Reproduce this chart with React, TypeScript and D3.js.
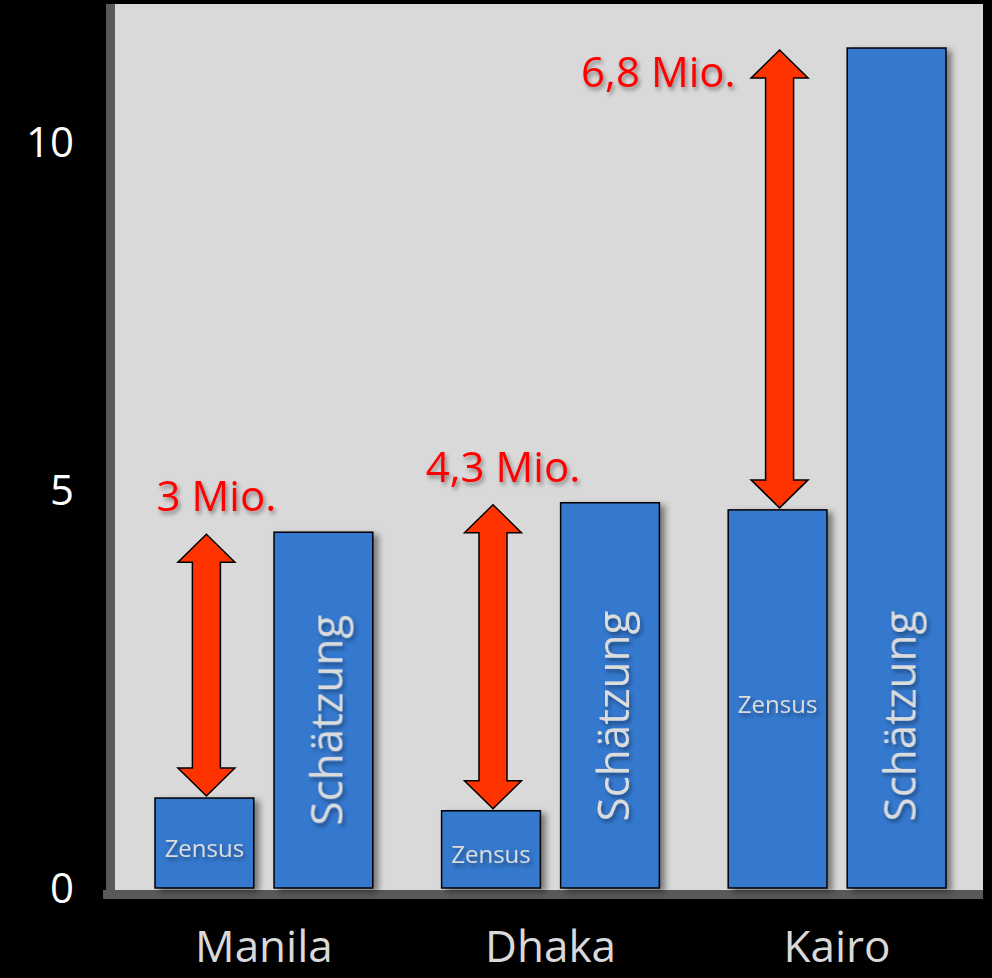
import React from 'react';
import * as d3 from 'd3';

const categories = ['Manila', 'Dhaka', 'Kairo'];
const seriesNames = ['Zensus', 'Schätzung'];
const zensusValues = [1.13, 0.97, 4.75];
const schaetzungValues = [4.47, 4.84, 11.35];
const diffLabels = ['3 Mio.', '4,3 Mio.', '6,8 Mio.'];
const diffLabelPlacement = ['above', 'above', 'left'];
const yTicks = [0, 5, 10];

const W = 992;
const H = 978;
const FONT = "'Open Sans', 'DejaVu Sans', sans-serif";

export default function App() {
  const y = d3.scaleLinear().domain([0, 5, 10]).range([888, 490, 142]);
  const x = d3.scaleBand<string>().domain(categories).range([155, 946]).paddingInner(0.24).paddingOuter(0);
  const xs = d3.scaleBand<string>().domain(seriesNames).range([0, x.bandwidth()]).paddingInner(0.17);
  const y0 = y(0);

  const arrowPath = (cx: number, top: number, bottom: number) => {
    const hw = 28.5, hh = 28, sw = 14;
    const p = d3.path();
    p.moveTo(cx, top);
    p.lineTo(cx + hw, top + hh);
    p.lineTo(cx + sw, top + hh);
    p.lineTo(cx + sw, bottom - hh);
    p.lineTo(cx + hw, bottom - hh);
    p.lineTo(cx, bottom);
    p.lineTo(cx - hw, bottom - hh);
    p.lineTo(cx - sw, bottom - hh);
    p.lineTo(cx - sw, top + hh);
    p.lineTo(cx - hw, top + hh);
    p.closePath();
    return p.toString();
  };

  return (
    <svg width={W} height={H} style={{ position: 'absolute', left: 0, top: 0, display: 'block' }} fontFamily={FONT}>
      <defs>
        <filter id="barShadow" x="-20%" y="-20%" width="150%" height="150%">
          <feDropShadow dx="5" dy="3" stdDeviation="3" floodColor="#000" floodOpacity="0.45" />
        </filter>
        <filter id="textShadow" x="-20%" y="-30%" width="140%" height="170%">
          <feDropShadow dx="2" dy="3" stdDeviation="2" floodColor="#000" floodOpacity="0.4" />
        </filter>
      </defs>
      <rect x={0} y={0} width={W} height={H} fill="#000" />
      {/* plot area */}
      <rect x={115} y={4} width={868} height={y0 + 2 - 4} fill="#d9d9d9" />
      {/* axes */}
      <rect x={106} y={4} width={9} height={y0 + 11 - 4} fill="#595959" />
      <rect x={103} y={y0 + 2} width={880} height={9} fill="#595959" />

      {/* y ticks */}
      {yTicks.map((t) => (
        <text key={t} x={74} y={y(t)} dy="0.36em" textAnchor="end" fill="#fff" fontSize={42}>
          {t}
        </text>
      ))}

      {/* bars */}
      {categories.map((c, i) => {
        const gx = x(c)!;
        const zx = gx + xs('Zensus')!;
        const sx = gx + xs('Schätzung')!;
        const bw = xs.bandwidth();
        const zy = y(zensusValues[i]);
        const sy = y(schaetzungValues[i]);
        return (
          <g key={c}>
            <rect x={zx} y={zy} width={bw} height={y0 - zy} fill="#3479cf" stroke="#000" strokeWidth={1.5} filter="url(#barShadow)" />
            <rect x={sx} y={sy} width={bw} height={y0 - sy} fill="#3479cf" stroke="#000" strokeWidth={1.5} filter="url(#barShadow)" />
          </g>
        );
      })}

      {/* bar texts */}
      {categories.map((c, i) => {
        const gx = x(c)!;
        const bw = xs.bandwidth();
        const zcx = gx + xs('Zensus')! + bw / 2;
        const scx = gx + xs('Schätzung')! + bw / 2;
        const zy = y(zensusValues[i]);
        const sy = y(schaetzungValues[i]);
        const zMid = (zy + y0) / 2 + 5;
        const sMid = Math.max((sy + y0) / 2 + 10, y0 - 172);
        return (
          <g key={c + '-t'} filter="url(#textShadow)">
            <text x={zcx} y={zMid} dy="0.36em" textAnchor="middle" fill="#dcdcdc" fontSize={24}>
              Zensus
            </text>
            <text transform={`translate(${scx + 19},${sMid}) rotate(-90)`} textAnchor="middle" fill="#dcdcdc" fontSize={44}>
              Schätzung
            </text>
          </g>
        );
      })}

      {/* arrows and diff labels */}
      {categories.map((c, i) => {
        const gx = x(c)!;
        const bw = xs.bandwidth();
        const cx = gx + xs('Zensus')! + bw / 2 + 2;
        const top = y(schaetzungValues[i]) + 2;
        const bottom = y(zensusValues[i]) - 2;
        const place = diffLabelPlacement[i];
        return (
          <g key={c + '-a'}>
            <path d={arrowPath(cx, top, bottom)} fill="#ff3300" stroke="#000" strokeWidth={1.5} strokeLinejoin="miter" />
            {place === 'above' ? (
              <text x={cx + 10} y={top - 23} textAnchor="middle" fill="#ff0000" fontSize={42} filter="url(#textShadow)">
                {diffLabels[i]}
              </text>
            ) : (
              <text x={cx - 44} y={top + 37} textAnchor="end" fill="#ff0000" fontSize={42} filter="url(#textShadow)">
                {diffLabels[i]}
              </text>
            )}
          </g>
        );
      })}

      {/* category labels */}
      {categories.map((c) => (
        <text key={c + '-l'} x={x(c)! + x.bandwidth() / 2} y={962} textAnchor="middle" fill="#d9d9d9" fontSize={44}>
          {c}
        </text>
      ))}
    </svg>
  );
}
